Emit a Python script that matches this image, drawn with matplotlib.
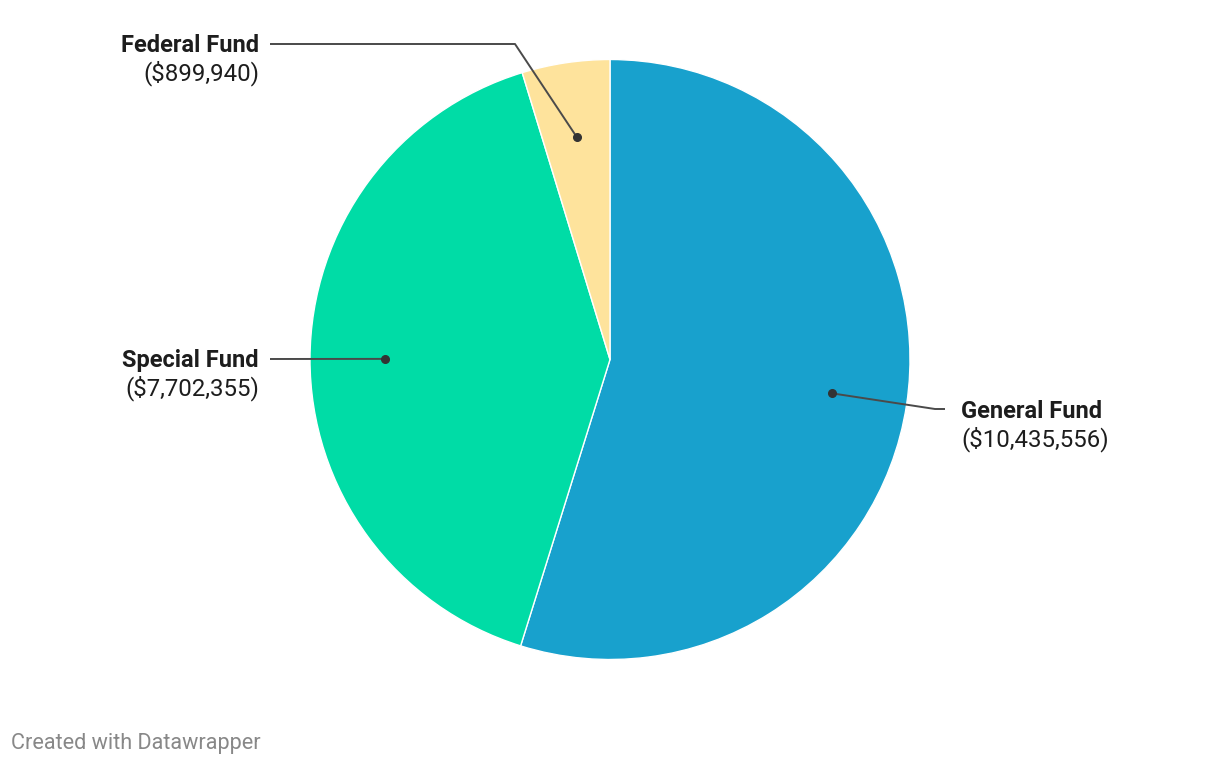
import numpy as np
import matplotlib
matplotlib.use("Agg")
import matplotlib.pyplot as plt

labels = ["General Fund", "Special Fund", "Federal Fund"]
values = [10435556, 7702355, 899940]
colors = ["#18a1cd", "#00dca6", "#fee39c"]

W, H = 1220, 766
fig = plt.figure(figsize=(W / 100, H / 100), dpi=100)
ax = fig.add_axes([0, 0, 1, 1])

cx, cy, R = 610, H - 359.5, 300
wedges, _ = ax.pie(values, colors=colors, startangle=90, counterclock=False,
                   radius=R, center=(cx, cy), frame=True,
                   wedgeprops=dict(edgecolor="white", linewidth=1))
ax.set_xlim(0, W)
ax.set_ylim(0, H)
ax.set_aspect("equal")
ax.axis("off")

# label positions (pixel coords, y from top) -- layout only
label_pos = {
    "General Fund": dict(path=[(935, 409), (945, 409)], tx=961, ty=411.5, ha="left"),
    "Special Fund": dict(path=[(270, 359)], tx=259, ty=360.5, ha="right"),
    "Federal Fund": dict(path=[(515, 44), (270, 44)], tx=259, ty=45.5, ha="right"),
}

fam = ["Roboto", "DejaVu Sans"]
for w, lab, val in zip(wedges, labels, values):
    mid = np.deg2rad((w.theta1 + w.theta2) / 2)
    dx = cx + 0.75 * R * np.cos(mid)
    dy = cy + 0.75 * R * np.sin(mid)
    info = label_pos[lab]
    xs = [dx] + [p[0] for p in info["path"]]
    ys = [dy] + [H - p[1] for p in info["path"]]
    ax.plot(xs, ys, color="#4a4a4a", lw=1.4, solid_capstyle="butt", zorder=5)
    ax.plot([dx], [dy], "o", color="#333333", ms=5.5, zorder=6)
    ax.text(info["tx"], H - info["ty"], lab, ha=info["ha"], va="center",
            fontsize=17, fontweight="bold", color="#1d1d1d", family=fam)
    ax.text(info["tx"], H - info["ty"] - 28, f"(${val:,})", ha=info["ha"], va="center",
            fontsize=17.3, color="#1d1d1d", family=fam)

ax.text(11, H - 743.5, "Created with Datawrapper", ha="left", va="center",
        fontsize=15.6, color="#888888", family=fam)

fig.savefig("out.png", dpi=100, facecolor="white")
